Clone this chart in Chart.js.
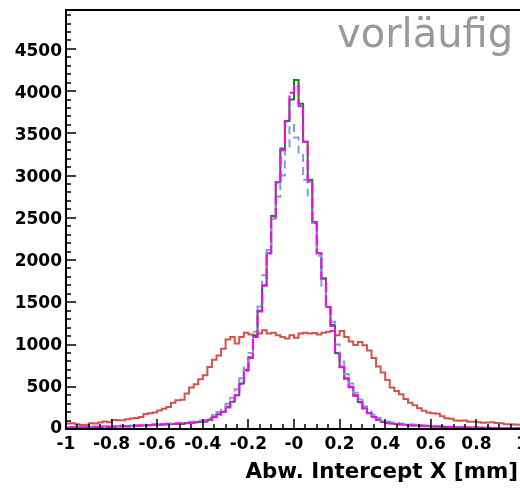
<!DOCTYPE html>
<html>
<head>
<meta charset="utf-8">
<script src="https://cdn.jsdelivr.net/npm/chart.js@4/dist/chart.umd.min.js"></script>
<style>
  html, body { margin: 0; padding: 0; background: #fff; overflow: hidden; width: 520px; height: 490px; }
  #wrap { position: relative; width: 530px; height: 490px; }
  #vorl { position: absolute; left: 337px; top: 13px; font-family: "DejaVu Sans"; font-size: 40px; line-height: 40px; color: #999; white-space: nowrap; }
  #xtitle { position: absolute; left: 0; width: 518px; top: 460px; text-align: right; font-family: "DejaVu Sans"; font-weight: bold; font-size: 21.4px; line-height: 21px; white-space: nowrap; }
</style>
</head>
<body>
<div id="wrap">
  <canvas id="chart" width="530" height="490"></canvas>
  <div id="vorl">vorläufig</div>
  <div id="xtitle">Abw. Intercept X [mm]</div>
</div>
<script>
// histogram binning: 100 bins from -1 to 1
const xMin = -1;
const binWidth = 0.02;

const xTickLabels = ["-1", "-0.8", "-0.6", "-0.4", "-0.2", "-0", "0.2", "0.4", "0.6", "0.8", "1"];
const yTickLabels = ["0", "500", "1000", "1500", "2000", "2500", "3000", "3500", "4000", "4500"];

// breite Verteilung (rot)
const rot = [
  65, 68, 55, 48, 48, 68, 65, 78, 88, 80,
  108, 105, 105, 115, 125, 130, 142, 178, 185, 195,
  218, 240, 260, 310, 340, 345, 420, 490, 530, 590,
  635, 735, 820, 870, 950, 1060, 1090, 1012, 1090, 1140,
  1120, 1110, 1131, 1170, 1131, 1140, 1110, 1090, 1072, 1110,
  1080, 1131, 1140, 1131, 1135, 1120, 1140, 1150, 1160, 1111,
  1160, 1090, 1035, 995, 1030, 990, 930, 840, 740, 670,
  580, 490, 450, 410, 355, 310, 280, 245, 215, 195,
  185, 180, 150, 126, 120, 100, 98, 100, 86, 86,
  80, 75, 78, 80, 72, 67, 55, 55, 52, 50,
];

// schmale Verteilung (grün, durchgezogen)
const gruen = [
  15, 20, 15, 20, 20, 25, 25, 25, 30, 25,
  30, 30, 35, 30, 35, 40, 40, 45, 45, 50,
  50, 55, 55, 60, 65, 60, 70, 75, 80, 85,
  90, 110, 145, 175, 205, 264, 323, 400, 540, 700,
  850, 1100, 1400, 1700, 2080, 2520, 2920, 3320, 3645, 3900,
  4130, 3850, 3400, 2950, 2450, 2080, 1785, 1445, 1230, 900,
  736, 600, 500, 400, 320, 245, 190, 145, 110, 85,
  75, 65, 60, 55, 50, 45, 42, 40, 35, 35,
  30, 30, 28, 25, 25, 22, 20, 20, 18, 18,
  15, 15, 15, 12, 12, 10, 10, 10, 8, 8,
];

// blau, gestrichelt
const blau = [
  20, 25, 20, 25, 25, 30, 30, 30, 35, 30,
  35, 35, 40, 35, 40, 45, 45, 50, 55, 55,
  60, 60, 65, 70, 75, 70, 80, 85, 90, 100,
  105, 130, 165, 200, 240, 300, 370, 470, 600, 760,
  900, 1150, 1450, 1820, 2120, 2490, 2750, 3000, 3340, 3600,
  3450, 3260, 2950, 2750, 2440, 2050, 1700, 1420, 1270, 1000,
  800, 650, 540, 430, 350, 270, 210, 170, 130, 100,
  90, 80, 70, 65, 60, 55, 50, 48, 45, 40,
  38, 35, 32, 30, 28, 25, 25, 22, 20, 20,
  18, 18, 15, 15, 15, 12, 12, 10, 10, 10,
];

// magenta, gestrichelt
const magenta = [
  12, 18, 15, 18, 22, 22, 25, 28, 25, 28,
  28, 32, 32, 33, 35, 38, 42, 42, 48, 50,
  52, 52, 58, 60, 62, 65, 68, 72, 78, 82,
  88, 105, 140, 170, 200, 255, 320, 400, 530, 690,
  840, 1090, 1390, 1700, 2080, 2510, 2920, 3300, 3640, 3980,
  4060, 3820, 3400, 2930, 2440, 2080, 1780, 1440, 1220, 890,
  730, 595, 495, 395, 315, 240, 185, 140, 108, 82,
  72, 62, 58, 52, 48, 44, 40, 38, 34, 32,
  30, 28, 26, 25, 23, 22, 20, 19, 17, 16,
  15, 14, 13, 12, 11, 10, 10, 9, 8, 8,
];

// Punkte an den linken Binkanten + rechte Kante fuer die Treppe
function histPunkte(werte) {
  const pts = werte.map((v, i) => ({ x: xMin + i * binWidth, y: v }));
  pts.push({ x: xMin + werte.length * binWidth, y: werte[werte.length - 1] });
  return pts;
}

function histDataset(werte, farbe, dash, order) {
  return {
    data: histPunkte(werte),
    borderColor: farbe,
    borderWidth: 2,
    borderDash: dash,
    stepped: true,
    pointRadius: 0,
    fill: false,
    order: order,
  };
}

// Rahmen und Ticks nach innen (ROOT-Stil)
const rahmenTicks = {
  id: "rahmenTicks",
  afterDatasetsDraw(chart) {
    const { ctx, chartArea: a, scales } = chart;
    const x = scales.x, y = scales.y;
    ctx.save();
    ctx.strokeStyle = "#000";
    ctx.lineWidth = 1.5;
    ctx.beginPath();
    for (let i = 0; i <= 49; i++) {
      const py = Math.round(y.getPixelForValue(i * 100));
      const len = i % 5 === 0 ? 10 : 5;
      ctx.moveTo(a.left, py);
      ctx.lineTo(a.left + len, py);
    }
    for (let i = 0; i <= 40; i++) {
      const px = Math.round(x.getPixelForValue(-1 + i * 0.05));
      const len = i % 4 === 0 ? 10 : 5;
      ctx.moveTo(px, a.bottom);
      ctx.lineTo(px, a.bottom - len);
    }
    ctx.stroke();
    ctx.lineWidth = 2;
    ctx.strokeRect(a.left, a.top, a.right - a.left, a.bottom - a.top);
    ctx.restore();
  },
};

Chart.defaults.font.family = "DejaVu Sans";
Chart.defaults.color = "#000";

new Chart(document.getElementById("chart"), {
  type: "line",
  data: {
    datasets: [
      histDataset(rot, "#d4524c", [], 4),
      histDataset(gruen, "#13851a", [], 3),
      histDataset(blau, "#7f9ed9", [8, 5], 2),
      histDataset(magenta, "#ff00ff", [11, 3], 1),
    ],
  },
  options: {
    responsive: false,
    animation: false,
    layout: { padding: { top: 10, right: 8, left: 0, bottom: 0 } },
    plugins: { legend: { display: false }, tooltip: { enabled: false } },
    scales: {
      x: {
        type: "linear",
        min: -1,
        max: 1,
        grid: { display: false, drawTicks: false },
        border: { display: false },
        afterFit: (s) => { s.height = 61; s.paddingLeft = 0; s.paddingRight = 0; },
        ticks: {
          stepSize: 0.2,
          autoSkip: false,
          maxRotation: 0,
          padding: 5,
          font: { size: 17, weight: "bold" },
          callback: (v, i) => xTickLabels[i],
        },
      },
      y: {
        min: 0,
        max: 4960,
        grid: { display: false, drawTicks: false },
        border: { display: false },
        afterFit: (s) => { s.width = 66; s.paddingTop = 0; s.paddingBottom = 0; },
        ticks: {
          stepSize: 500,
          includeBounds: false,
          padding: 4,
          font: { size: 17, weight: "bold" },
          callback: (v, i) => yTickLabels[i],
        },
      },
    },
  },
  plugins: [rahmenTicks],
});
</script>
</body>
</html>
